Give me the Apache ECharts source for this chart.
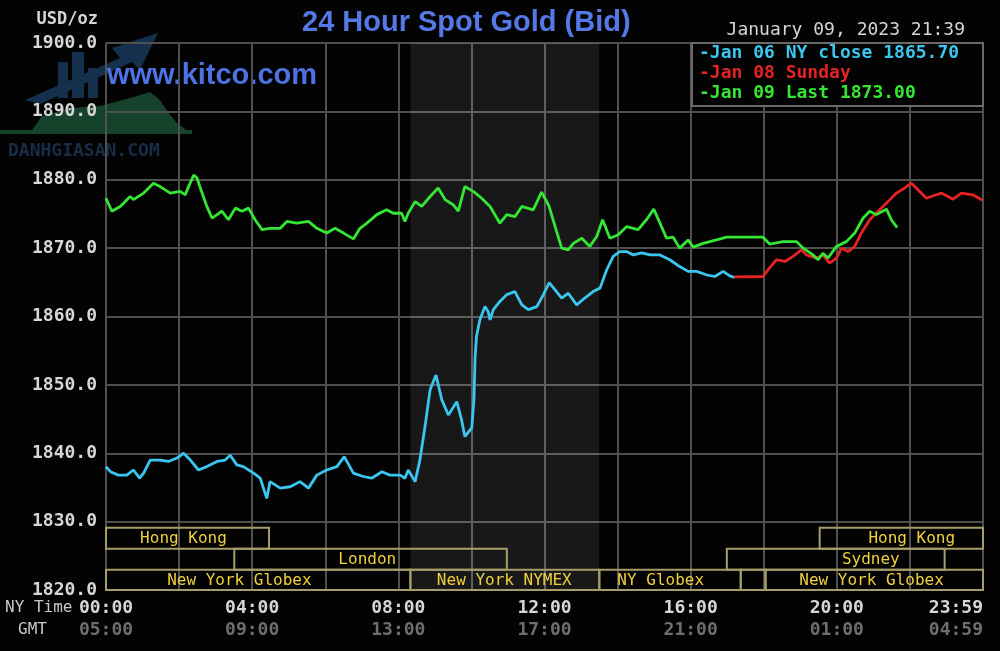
<!DOCTYPE html>
<html><head><meta charset="utf-8">
<script src="https://cdn.jsdelivr.net/npm/echarts@6/dist/echarts.min.js"></script>
<style>html,body{margin:0;padding:0;background:#030303;}#c{width:1000px;height:651px;}</style>
</head><body><div id="c"></div>
<script>
const titleText = '24 Hour Spot Gold (Bid)';
const siteText = 'www.kitco.com';
const dateText = 'January 09, 2023 21:39';
const unitText = 'USD/oz';
const nyTimeLabels = {0:'00:00',4:'04:00',8:'08:00',12:'12:00',16:'16:00',20:'20:00',24:'23:59'};
const gmtLabels = {0:'05:00',4:'09:00',8:'13:00',12:'17:00',16:'21:00',20:'01:00',24:'04:59'};
const legendLabels = ['-Jan 06 NY close 1865.70','-Jan 08 Sunday','-Jan 09 Last 1873.00'];
const seriesColors = ['#3ac6ef','#e62222','#35e635'];

// [hour (NY time), price]
const cyanData = [[0.00,1838.05],[0.12,1837.3],[0.34,1836.8],[0.57,1836.8],[0.75,1837.55],[0.92,1836.35],[1.03,1837.1],[1.21,1839.0],[1.48,1839.0],[1.71,1838.8],[1.94,1839.3],[2.12,1840.0],[2.31,1839.0],[2.53,1837.55],[2.76,1838.05],[3.04,1838.8],[3.26,1839.0],[3.40,1839.7],[3.58,1838.3],[3.76,1838.05],[4.04,1837.1],[4.22,1836.35],[4.40,1833.4],[4.49,1835.85],[4.77,1834.9],[5.04,1835.1],[5.31,1835.85],[5.54,1834.9],[5.77,1836.8],[6.04,1837.55],[6.32,1838.05],[6.52,1839.5],[6.77,1837.1],[7.04,1836.6],[7.27,1836.35],[7.55,1837.3],[7.77,1836.8],[8.05,1836.8],[8.18,1836.35],[8.27,1837.55],[8.46,1835.85],[8.59,1839.0],[8.73,1843.9],[8.87,1849.3],[9.03,1851.45],[9.19,1847.8],[9.37,1845.6],[9.60,1847.55],[9.73,1844.9],[9.82,1842.45],[10.01,1843.7],[10.07,1848.0],[10.10,1853.9],[10.14,1857.1],[10.23,1859.5],[10.37,1861.45],[10.46,1860.7],[10.51,1859.5],[10.60,1861.0],[10.78,1862.2],[10.97,1863.2],[11.19,1863.65],[11.38,1861.7],[11.56,1861.0],[11.79,1861.45],[11.97,1863.2],[12.13,1864.95],[12.29,1863.9],[12.47,1862.7],[12.65,1863.4],[12.88,1861.7],[13.10,1862.7],[13.33,1863.65],[13.52,1864.15],[13.70,1866.8],[13.88,1868.8],[14.06,1869.5],[14.25,1869.5],[14.43,1869.0],[14.66,1869.3],[14.89,1869.0],[15.16,1869.0],[15.43,1868.3],[15.70,1867.3],[15.93,1866.6],[16.16,1866.6],[16.43,1866.1],[16.66,1865.85],[16.89,1866.6],[17.07,1865.95],[17.20,1865.7]];
const redData = [[17.20,1865.8],[17.98,1865.85],[18.16,1867.1],[18.35,1868.3],[18.58,1868.05],[18.80,1868.8],[19.03,1869.75],[19.17,1869.0],[19.44,1868.55],[19.62,1869.0],[19.80,1867.8],[19.99,1868.55],[20.13,1870.0],[20.31,1869.5],[20.49,1870.25],[20.67,1872.2],[20.90,1874.15],[21.08,1875.1],[21.26,1876.1],[21.40,1876.8],[21.63,1878.05],[21.86,1878.8],[22.04,1879.5],[22.22,1878.55],[22.45,1877.3],[22.72,1877.8],[22.86,1878.05],[23.18,1877.15],[23.41,1878.05],[23.72,1877.8],[23.95,1877.1],[23.98,1877.0]];
const greenData = [[0.00,1877.3],[0.16,1875.4],[0.39,1876.1],[0.66,1877.55],[0.75,1877.1],[1.03,1878.05],[1.30,1879.5],[1.48,1879.0],[1.76,1878.05],[2.03,1878.3],[2.17,1877.8],[2.26,1879.0],[2.40,1880.7],[2.49,1880.25],[2.63,1878.05],[2.76,1876.1],[2.90,1874.4],[3.04,1874.9],[3.17,1875.4],[3.35,1874.15],[3.54,1875.85],[3.72,1875.4],[3.90,1875.85],[4.08,1874.15],[4.27,1872.7],[4.49,1872.9],[4.77,1872.9],[4.95,1873.9],[5.22,1873.65],[5.54,1873.9],[5.77,1872.9],[6.04,1872.2],[6.27,1872.9],[6.50,1872.2],[6.77,1871.35],[6.95,1872.9],[7.14,1873.65],[7.41,1874.9],[7.68,1875.6],[7.86,1875.1],[8.09,1875.1],[8.18,1873.9],[8.27,1875.1],[8.46,1876.8],[8.64,1876.1],[8.87,1877.55],[9.09,1878.8],[9.28,1877.1],[9.50,1876.35],[9.64,1875.4],[9.82,1879.0],[10.05,1878.3],[10.28,1877.3],[10.51,1876.1],[10.78,1873.65],[10.97,1874.9],[11.19,1874.6],[11.38,1876.1],[11.69,1875.6],[11.92,1878.2],[12.12,1876.2],[12.33,1872.45],[12.47,1870.0],[12.65,1869.75],[12.79,1870.7],[13.02,1871.45],[13.24,1870.25],[13.43,1871.7],[13.59,1874.15],[13.79,1871.45],[14.02,1871.95],[14.25,1873.15],[14.56,1872.7],[14.79,1874.15],[14.99,1875.7],[15.16,1873.65],[15.34,1871.45],[15.52,1871.6],[15.70,1870.0],[15.93,1871.2],[16.07,1870.15],[16.34,1870.7],[16.71,1871.2],[16.98,1871.6],[17.34,1871.6],[17.98,1871.6],[18.16,1870.6],[18.53,1870.95],[18.90,1870.95],[19.08,1870.0],[19.35,1869.0],[19.49,1868.3],[19.62,1869.25],[19.76,1868.55],[19.99,1870.25],[20.26,1870.95],[20.49,1872.2],[20.72,1874.4],[20.90,1875.4],[21.08,1874.9],[21.36,1875.7],[21.49,1874.15],[21.65,1873.0]];

const sessionNames = ['Hong Kong','Hong Kong','London','Sydney','New York Globex','New York NYMEX','NY Globex','','New York Globex'];
const sessionStart = [0, 19.53, 3.51, 16.99, 0, 8.33, 13.5, 17.37, 18.05];
const sessionEnd = [4.46, 24, 10.97, 22.95, 8.33, 13.5, 17.37, 18.05, 24];
const sessionRow = [0, 0, 1, 1, 2, 2, 2, 2, 2];
const sessionLabelAt = [2.12, 22.05, 7.15, 20.93, 3.65, 10.9, 15.18, 17.7, 20.95];
const rowTop = [1829.1, 1826.05, 1822.95];
const rowBottom = [1826.05, 1822.95, 1820.0];
const nymexBand = [8.33, 13.5];

const mono = '"DejaVu Sans Mono", "Liberation Mono", monospace';
const chart = echarts.init(document.getElementById('c'), null, {renderer: 'canvas'});

const sessionData = sessionStart.map((s, i) => [s, sessionEnd[i], sessionRow[i], sessionLabelAt[i]]);

const option = {
  backgroundColor: '#030303',
  animation: false,
  grid: {left: 106, right: 17, top: 43, bottom: 61},
  xAxis: {
    type: 'value', min: 0, max: 24, interval: 2,
    axisLine: {show: false}, axisTick: {show: false},
    splitLine: {show: true, lineStyle: {color: '#505050', width: 2}},
    axisLabel: {
      margin: 7, showMinLabel: true, showMaxLabel: true, alignMaxLabel: 'right',
      formatter: function (v) {
        if (nyTimeLabels[v] === undefined) return '';
        return '{a|' + nyTimeLabels[v] + '}\n{b|' + gmtLabels[v] + '}';
      },
      rich: {
        a: {color: '#d6d6d6', fontFamily: mono, fontWeight: 'bold', fontSize: 18, lineHeight: 22},
        b: {color: '#6e6e6e', fontFamily: mono, fontWeight: 'bold', fontSize: 18, lineHeight: 22}
      }
    }
  },
  yAxis: {
    type: 'value', min: 1820, max: 1900, interval: 10,
    axisLine: {show: false}, axisTick: {show: false},
    splitLine: {show: true, lineStyle: {color: '#505050', width: 2}},
    axisLabel: {
      margin: 9, color: '#d6d6d6', fontFamily: mono, fontWeight: 'bold', fontSize: 18,
      formatter: v => v.toFixed(1)
    }
  },
  series: [
    {
      type: 'line', data: cyanData, showSymbol: false, symbol: 'none',
      lineStyle: {color: seriesColors[0], width: 2.8}, z: 3,
      markArea: {silent: true, itemStyle: {color: 'rgba(255,255,255,0.085)'},
        data: [[{xAxis: nymexBand[0]}, {xAxis: nymexBand[1]}]]}
    },
    {type: 'line', data: redData, showSymbol: false, symbol: 'none', lineStyle: {color: seriesColors[1], width: 2.8}, z: 4},
    {type: 'line', data: greenData, showSymbol: false, symbol: 'none', lineStyle: {color: seriesColors[2], width: 2.8}, z: 5},
    {
      type: 'custom', data: sessionData, clip: false, z: 6,
      encode: {x: [0, 1, 3]},
      renderItem: function (params, api) {
        const i = params.dataIndex;
        const s = api.value(0), e = api.value(1), r = api.value(2), lx = api.value(3);
        const p1 = api.coord([s, rowTop[r]]);
        const p2 = api.coord([e, rowBottom[r]]);
        const pl = api.coord([lx, (rowTop[r] + rowBottom[r]) / 2]);
        return {type: 'group', children: [
          {type: 'rect', shape: {x: p1[0], y: p1[1], width: p2[0] - p1[0], height: p2[1] - p1[1]},
            style: {fill: null, stroke: '#a69d6a', lineWidth: 2}},
          {type: 'text', x: pl[0], y: pl[1] + 1,
            style: {text: sessionNames[i], fill: '#f0d03c', font: '16px ' + mono, align: 'center', verticalAlign: 'middle'}}
        ]};
      }
    }
  ],
  graphic: [
    // watermark logo
    {type: 'rect', z: -5, shape: {x: 58, y: 62, width: 10, height: 36}, style: {fill: '#14304d'}},
    {type: 'rect', z: -5, shape: {x: 72, y: 52, width: 12, height: 46}, style: {fill: '#14304d'}},
    {type: 'rect', z: -5, shape: {x: 88, y: 68, width: 10, height: 30}, style: {fill: '#14304d'}},
    {type: 'polygon', z: -5, shape: {points: [[25,100],[120,58],[112,48],[158,33],[140,70],[132,62],[40,104]]}, style: {fill: '#14304d'}},
    {type: 'polygon', z: -5, shape: {points: [[30,133],[42,116],[70,108],[100,106],[130,98],[150,92],[160,100],[168,112],[176,122],[190,133]]}, style: {fill: '#15422b'}},
    {type: 'rect', z: -5, shape: {x: 0, y: 130, width: 192, height: 4}, style: {fill: '#15422b'}},
    {type: 'text', z: -5, left: 8, top: 142, style: {text: 'DANHGIASAN.COM', fill: '#172d48', font: 'bold 18px ' + mono}},
    // texts
    {type: 'text', left: 302, top: 8, style: {text: titleText, fill: '#5478e6', font: 'bold 29px "Liberation Sans", Arial, sans-serif'}},
    {type: 'text', left: 107, top: 61, style: {text: siteText, fill: '#4e72e4', font: 'bold 29px "Liberation Sans", Arial, sans-serif'}},
    {type: 'text', right: 35, top: 21, style: {text: dateText, fill: '#d6d6d6', font: '18px ' + mono}},
    {type: 'text', right: 902, top: 11, style: {text: unitText, fill: '#d6d6d6', font: 'bold 17px ' + mono}},
    {type: 'text', left: 5, top: 600, style: {text: 'NY Time', fill: '#c8c8c8', font: '16px ' + mono}},
    {type: 'text', left: 18, top: 622, style: {text: 'GMT', fill: '#c8c8c8', font: '16px ' + mono}},
    // legend box
    {type: 'rect', z: 20, shape: {x: 692, y: 43, width: 291, height: 63}, style: {fill: '#030303', stroke: '#6a6a6a', lineWidth: 2}},
    {type: 'text', z: 21, left: 699, top: 44, style: {text: legendLabels[0], fill: seriesColors[0], font: 'bold 18px ' + mono}},
    {type: 'text', z: 21, left: 699, top: 64, style: {text: legendLabels[1], fill: seriesColors[1], font: 'bold 18px ' + mono}},
    {type: 'text', z: 21, left: 699, top: 84, style: {text: legendLabels[2], fill: seriesColors[2], font: 'bold 18px ' + mono}}
  ]
};
chart.setOption(option);
</script>
</body></html>
